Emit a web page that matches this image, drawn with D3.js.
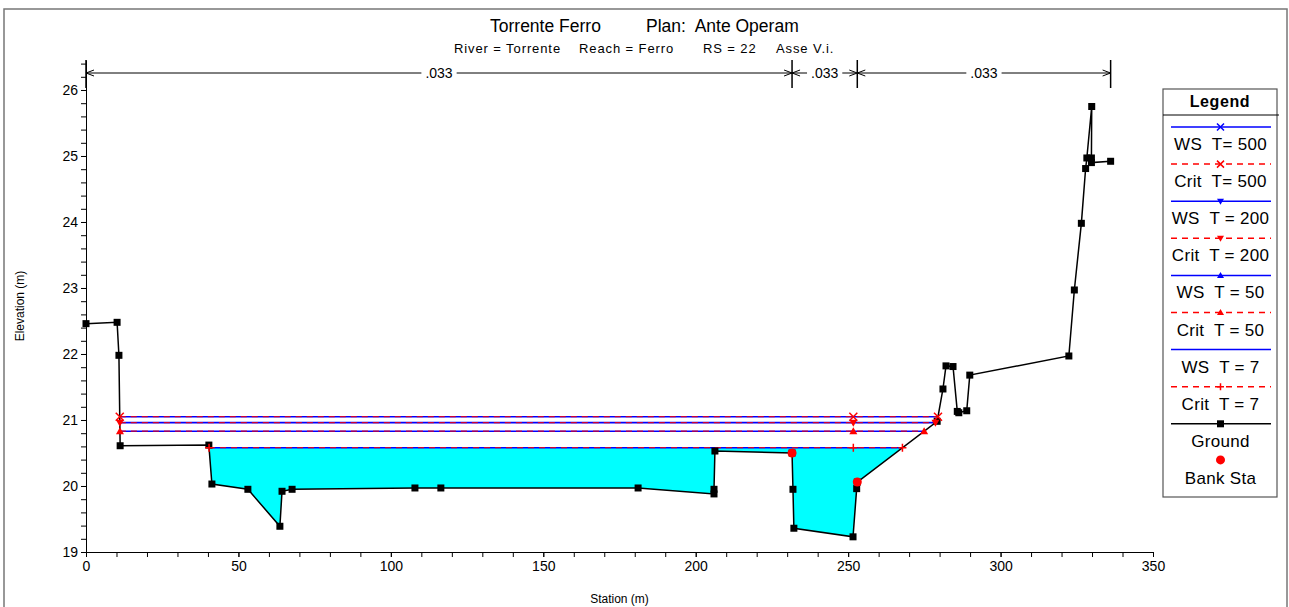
<!DOCTYPE html>
<html>
<head>
<meta charset="utf-8">
<script src="https://cdn.jsdelivr.net/npm/d3@7/dist/d3.min.js"></script>
<style>
  body { margin: 0; background: #fff; }
  svg { font-family: "Liberation Sans", Arial, sans-serif; }
</style>
</head>
<body>
<svg id="chart" width="1289" height="607"></svg>
<script>
// ground profile (station m, elevation m)
var groundSta = [0, 10.2, 10.8, 11.2, 40.3, 41.3, 53.1, 63.6, 64.3, 67.6, 107.9, 116.4, 181.1, 206.0, 206.0, 206.3,
  231.6, 231.9, 232.2, 251.6, 252.8, 253.0, 279.2, 281.1, 282.1, 284.4, 285.8, 286.3, 288.9, 289.9,
  322.4, 324.2, 326.5, 327.9, 328.3, 329.9, 329.8, 329.8, 336.1];
var groundElev = [22.46, 22.48, 21.98, 20.61, 20.62, 20.03, 19.95, 19.39, 19.92, 19.95, 19.97, 19.97, 19.97, 19.88, 19.95, 20.53,
  20.50, 19.95, 19.36, 19.23, 19.96, 20.06, 20.98, 21.47, 21.82, 21.81, 21.13, 21.11, 21.14, 21.68,
  21.97, 22.97, 23.98, 24.81, 24.97, 25.75, 24.97, 24.90, 24.92];

var bankSta = [231.6, 253.0];
var bankElev = [20.50, 20.06];

// n values between the dimension stations
var nSta = [0, 231.6, 253.0, 336.1];
var nValues = [".033", ".033", ".033"];

// profiles
var profiles = ["T= 500", "T = 200", "T = 50", "T = 7"];
var wsElev = [21.05, 20.96, 20.83, 20.58];
var critElev = [21.05, 20.96, 20.83, 20.58];
var profileSymbols = ["cross", "down", "up", "plus"];
var midMarkSta = 251.7;

var xTicks = [0, 50, 100, 150, 200, 250, 300, 350];
var yTicks = [19, 20, 21, 22, 23, 24, 25, 26];

(function () {
  var svg = d3.select("#chart");
  var mLeft = 86, mRight = 1153, mTop = 60, mBottom = 552;

  var x = d3.scaleLinear().domain([0, 350]).range([mLeft, mRight]);
  var y = d3.scaleLinear().domain([19, 26.4545]).range([mBottom, mTop]);

  // outer frame
  svg.append("rect").attr("x", 4).attr("y", 9).attr("width", 1283).attr("height", 610)
    .attr("fill", "none").attr("stroke", "#777").attr("stroke-width", 1.5);

  function txt(t, px, py, size, anchor) {
    return svg.append("text").attr("x", px).attr("y", py).attr("font-size", size)
      .attr("text-anchor", anchor || "start").attr("fill", "#000").text(t);
  }
  // titles
  txt("Torrente Ferro", 490, 32, "17.5px");
  txt("Plan:  Ante Operam", 646, 32, "17.5px").attr("xml:space", "preserve");
  txt("River = Torrente", 454, 53, "13px").attr("letter-spacing", "0.9px");
  txt("Reach = Ferro", 579, 53, "13px").attr("letter-spacing", "0.9px");
  txt("RS = 22", 703, 53, "13px").attr("letter-spacing", "0.9px");
  txt("Asse V.i.", 776, 53, "13px").attr("letter-spacing", "0.9px");

  // axes
  var yMinor = d3.range(0, 38).map(function (i) { return 19 + i * 0.2; });
  svg.append("g").attr("transform", "translate(" + mLeft + ",0)")
    .call(d3.axisLeft(y).tickValues(yMinor).tickFormat("").tickSize(5).tickSizeOuter(0));
  svg.append("g").attr("transform", "translate(" + mLeft + ",0)")
    .call(d3.axisLeft(y).tickValues(yTicks).tickFormat(d3.format("d")).tickSize(5).tickPadding(3).tickSizeOuter(0))
    .call(function (g) { g.select(".domain").remove(); });
  var xMinor = d3.range(0, 36).map(function (i) { return i * 10; });
  svg.append("g").attr("transform", "translate(0," + mBottom + ")")
    .call(d3.axisBottom(x).tickValues(xMinor).tickFormat("").tickSize(5).tickSizeOuter(0));
  svg.append("g").attr("transform", "translate(0," + mBottom + ")")
    .call(d3.axisBottom(x).tickValues(xTicks).tickFormat(d3.format("d")).tickSize(5).tickPadding(4).tickSizeOuter(0))
    .call(function (g) { g.select(".domain").remove(); });
  svg.selectAll(".tick text").attr("font-size", "14px").attr("font-family", "Liberation Sans, Arial, sans-serif");
  svg.selectAll(".domain, .tick line").attr("stroke", "#000");

  txt("Station (m)", (mLeft + mRight) / 2, 603, "12px", "middle");
  svg.append("text").attr("transform", "translate(24," + ((mTop + mBottom) / 2) + ") rotate(-90)")
    .attr("text-anchor", "middle").attr("font-size", "12px").text("Elevation (m)");

  // n value dimension lines
  var dimY = 73;
  nSta.forEach(function (s) {
    svg.append("line").attr("x1", x(s)).attr("x2", x(s)).attr("y1", 60).attr("y2", 88)
      .attr("stroke", "#000").attr("stroke-width", 1.5);
  });
  nValues.forEach(function (n, i) {
    var x0 = x(nSta[i]), x1 = x(nSta[i + 1]), xm = (x0 + x1) / 2;
    var t = txt(n, xm, dimY + 5, "14px", "middle");
    var w = t.node().getComputedTextLength() / 2 + 4;
    svg.append("line").attr("x1", x0).attr("x2", xm - w).attr("y1", dimY).attr("y2", dimY).attr("stroke", "#000");
    svg.append("line").attr("x1", xm + w).attr("x2", x1).attr("y1", dimY).attr("y2", dimY).attr("stroke", "#000");
    svg.append("path").attr("d", "M" + (x0 + 8) + "," + (dimY - 3) + "L" + x0 + "," + dimY + "L" + (x0 + 8) + "," + (dimY + 3))
      .attr("fill", "none").attr("stroke", "#000");
    svg.append("path").attr("d", "M" + (x1 - 8) + "," + (dimY - 3) + "L" + x1 + "," + dimY + "L" + (x1 - 8) + "," + (dimY + 3))
      .attr("fill", "none").attr("stroke", "#000");
  });

  var ground = groundSta.map(function (s, i) { return [s, groundElev[i]]; });

  // water extents from ground crossings
  function wsExtent(level) {
    var l = null, r = null;
    for (var i = 1; i < ground.length; i++) {
      var a = ground[i - 1], b = ground[i];
      if (l === null && a[1] >= level && b[1] < level) {
        l = a[0] + (a[1] - level) / (a[1] - b[1]) * (b[0] - a[0]);
      } else if (l !== null && a[1] < level && b[1] >= level) {
        r = a[0] + (level - a[1]) / (b[1] - a[1]) * (b[0] - a[0]);
        break;
      }
    }
    return [l, r];
  }

  var line = d3.line().x(function (d) { return x(d[0]); }).y(function (d) { return y(d[1]); });

  // water fill for the lowest profile
  var fillLevel = wsElev[3];
  var ext = wsExtent(fillLevel);
  var poly = [[ext[0], fillLevel]];
  ground.forEach(function (p) {
    if (p[0] > ext[0] && p[0] < ext[1] && p[1] < fillLevel) poly.push(p);
  });
  poly.push([ext[1], fillLevel]);
  svg.append("path").attr("d", line(poly) + "Z").attr("fill", "#00ffff").attr("stroke", "none");

  // symbols
  function drawSym(g, type, cx, cy, color, sz) {
    if (type === "cross") {
      g.append("path").attr("d", "M" + (cx - sz) + "," + (cy - sz) + "L" + (cx + sz) + "," + (cy + sz) +
        "M" + (cx - sz) + "," + (cy + sz) + "L" + (cx + sz) + "," + (cy - sz))
        .attr("stroke", color).attr("stroke-width", 1.5).attr("fill", "none");
    } else if (type === "plus") {
      g.append("path").attr("d", "M" + (cx - sz) + "," + cy + "L" + (cx + sz) + "," + cy +
        "M" + cx + "," + (cy - sz) + "L" + cx + "," + (cy + sz))
        .attr("stroke", color).attr("stroke-width", 1.5).attr("fill", "none");
    } else if (type === "down") {
      g.append("path").attr("d", "M" + (cx - sz) + "," + (cy - sz + 1) + "L" + (cx + sz) + "," + (cy - sz + 1) + "L" + cx + "," + (cy + sz))
        .attr("fill", color);
    } else if (type === "up") {
      g.append("path").attr("d", "M" + (cx - sz) + "," + (cy + sz - 1) + "L" + (cx + sz) + "," + (cy + sz - 1) + "L" + cx + "," + (cy - sz))
        .attr("fill", color);
    }
  }

  // water surface and critical lines
  var wsG = svg.append("g");
  profiles.forEach(function (p, i) {
    var e = wsExtent(wsElev[i]);
    wsG.append("line").attr("x1", x(e[0])).attr("x2", x(e[1])).attr("y1", y(wsElev[i])).attr("y2", y(wsElev[i]))
      .attr("stroke", "#0000ff").attr("stroke-width", 1.6);
    var c = wsExtent(critElev[i]);
    wsG.append("line").attr("x1", x(c[0])).attr("x2", x(c[1])).attr("y1", y(critElev[i])).attr("y2", y(critElev[i]))
      .attr("stroke", "#ff0000").attr("stroke-width", 1.3).attr("stroke-dasharray", "6,5").attr("opacity", 0.8);
  });

  // ground line
  svg.append("path").attr("d", line(ground)).attr("fill", "none").attr("stroke", "#000").attr("stroke-width", 1.5);
  svg.selectAll("rect.gpt").data(ground).enter().append("rect").attr("class", "gpt")
    .attr("x", function (d) { return x(d[0]) - 3.5; }).attr("y", function (d) { return y(d[1]) - 3.5; })
    .attr("width", 7).attr("height", 7).attr("fill", "#000");

  // profile markers
  var mkG = svg.append("g");
  profiles.forEach(function (p, i) {
    var c = wsExtent(critElev[i]);
    [c[0], midMarkSta, c[1]].forEach(function (s) {
      drawSym(mkG, profileSymbols[i], x(s), y(critElev[i]), "#ff0000", 4);
    });
  });

  // bank stations
  bankSta.forEach(function (s, i) {
    svg.append("circle").attr("cx", x(s)).attr("cy", y(bankElev[i])).attr("r", 4.5).attr("fill", "#ff0000");
  });

  // legend
  var lg = svg.append("g");
  lg.append("rect").attr("x", 1163).attr("y", 89).attr("width", 114).attr("height", 408)
    .attr("fill", "#fff").attr("stroke", "#555").attr("stroke-width", 1.2);
  lg.append("text").attr("x", 1220).attr("y", 107).attr("text-anchor", "middle").attr("font-size", "16px")
    .attr("font-weight", "bold").attr("letter-spacing", "0.6px").text("Legend");
  lg.append("line").attr("x1", 1163).attr("x2", 1279).attr("y1", 115).attr("y2", 115).attr("stroke", "#000");

  var legendItems = [];
  profiles.forEach(function (p, i) {
    legendItems.push({ label: "WS  " + p, color: "#0000ff", dash: null, sym: i < 3 ? profileSymbols[i] : null });
    legendItems.push({ label: "Crit  " + p, color: "#ff0000", dash: "6,5", sym: profileSymbols[i] });
  });
  legendItems.push({ label: "Ground", color: "#000", dash: null, sym: "square" });
  legendItems.push({ label: "Bank Sta", color: null, dash: null, sym: "dot" });

  legendItems.forEach(function (d, i) {
    var ly = 127 + i * 37.1;
    if (d.color) {
      lg.append("line").attr("x1", 1171).attr("x2", 1271).attr("y1", ly).attr("y2", ly)
        .attr("stroke", d.color).attr("stroke-width", 1.5).attr("stroke-dasharray", d.dash);
    }
    if (d.sym === "square") {
      lg.append("rect").attr("x", 1217).attr("y", ly - 3.5).attr("width", 7).attr("height", 7).attr("fill", "#000");
    } else if (d.sym === "dot") {
      lg.append("circle").attr("cx", 1220.5).attr("cy", ly - 1).attr("r", 4.5).attr("fill", "#ff0000");
    } else if (d.sym) {
      drawSym(lg, d.sym, 1220.5, ly, d.color, 3.5);
    }
    lg.append("text").attr("x", 1220.5).attr("y", ly + 23).attr("text-anchor", "middle")
      .attr("font-size", "17px").attr("letter-spacing", "0.3px").attr("xml:space", "preserve").text(d.label);
  });
})();
</script>
</body>
</html>
